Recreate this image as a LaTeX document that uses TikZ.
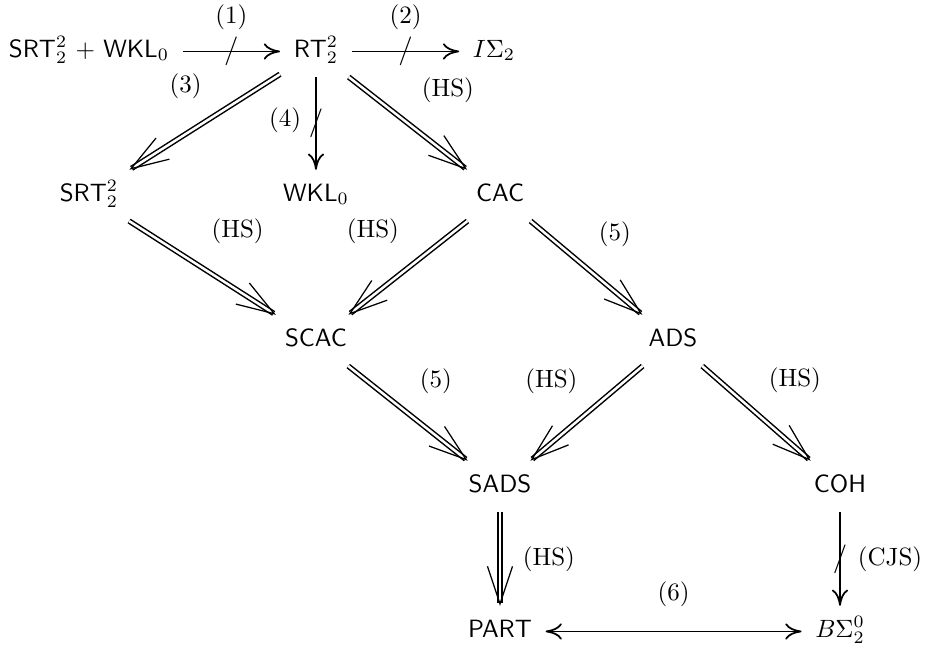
\documentclass[tikz,border=0pt]{standalone}
\usepackage{amsmath}
\usetikzlibrary{arrows.meta}
\tikzset{
  thy/.style={font=\sffamily,inner sep=2pt,outer sep=3.5pt,text height=7pt,text depth=2.5pt},
  sarr/.style={line width=.7pt,-{Computer Modern Rightarrow[length=6.5pt,width=6.5pt]}},
  darr/.style={double,double distance=1pt,line width=.6pt,-{Straight Barb[length=15pt,width=10pt,line width=.5pt]}},
  eqv/.style={line width=.7pt,{Computer Modern Rightarrow[length=6.5pt,width=6.5pt]}-{Computer Modern Rightarrow[length=6.5pt,width=6.5pt]}},
  nslash/.style={inner sep=0pt,scale=1.15}
}
\begin{document}
\begin{tikzpicture}
  \useasboundingbox (0,0) rectangle (13.004,9.096);
  % theories
  \node[thy] (srtwkl) at (1.251,8.373) {SRT$^2_2$ + WKL$_0$};
  \node[thy] (rt) at (4.442,8.373) {RT$^2_2$};
  \node[thy] (isig) at (6.945,8.373) {$I\Sigma_2$};
  \node[thy] (srt) at (1.251,6.349) {SRT$^2_2$};
  \node[thy] (wkl) at (4.442,6.349) {WKL$_0$};
  \node[thy] (cac) at (7.029,6.349) {CAC};
  \node[thy] (scac) at (4.442,4.310) {SCAC};
  \node[thy] (ads) at (9.461,4.310) {ADS};
  \node[thy] (sads) at (7.029,2.258) {SADS};
  \node[thy] (coh) at (11.809,2.258) {COH};
  \node[thy] (part) at (7.029,0.219) {PART};
  \node[thy] (bsig) at (11.809,0.219) {$B\Sigma^0_2$};
  % non-implications
  \draw[sarr] (srtwkl) -- (rt) node[nslash,midway]{$/$} node[midway,above=5pt]{(1)};
  \draw[sarr] (rt) -- (isig) node[nslash,midway]{$/$} node[midway,above=5pt]{(2)};
  \draw[sarr] (rt) -- (wkl) node[nslash,midway]{$/$} node[pos=.47,left=2.3pt]{(4)};
  \draw[sarr] (coh) -- (bsig) node[nslash,midway]{$/$} node[midway,right=3.5pt]{(CJS)};
  % implications
  \draw[darr] (rt) -- (srt) node[midway,above left,xshift=2.4pt,yshift=5.6pt]{(3)};
  \draw[darr] (rt) -- (cac) node[midway,above right,xshift=1.9pt,yshift=4.6pt]{(HS)};
  \draw[darr] (srt) -- (scac) node[midway,above right,yshift=6pt]{(HS)};
  \draw[darr] (cac) -- (scac) node[midway,above left,yshift=6pt]{(HS)};
  \draw[darr] (cac) -- (ads) node[midway,above right,xshift=1.3pt,yshift=4.8pt]{(5)};
  \draw[darr] (scac) -- (sads) node[midway,above right,xshift=1.1pt,yshift=4.2pt]{(5)};
  \draw[darr] (ads) -- (sads) node[midway,above left,yshift=4.2pt]{(HS)};
  \draw[darr] (ads) -- (coh) node[midway,above right,xshift=1.3pt,yshift=4.6pt]{(HS)};
  \draw[darr] (sads) -- (part) node[midway,right=5.5pt]{(HS)};
  % equivalence
  \draw[eqv] (part) -- (bsig) node[midway,above=6.2pt]{(6)};
\end{tikzpicture}
\end{document}
